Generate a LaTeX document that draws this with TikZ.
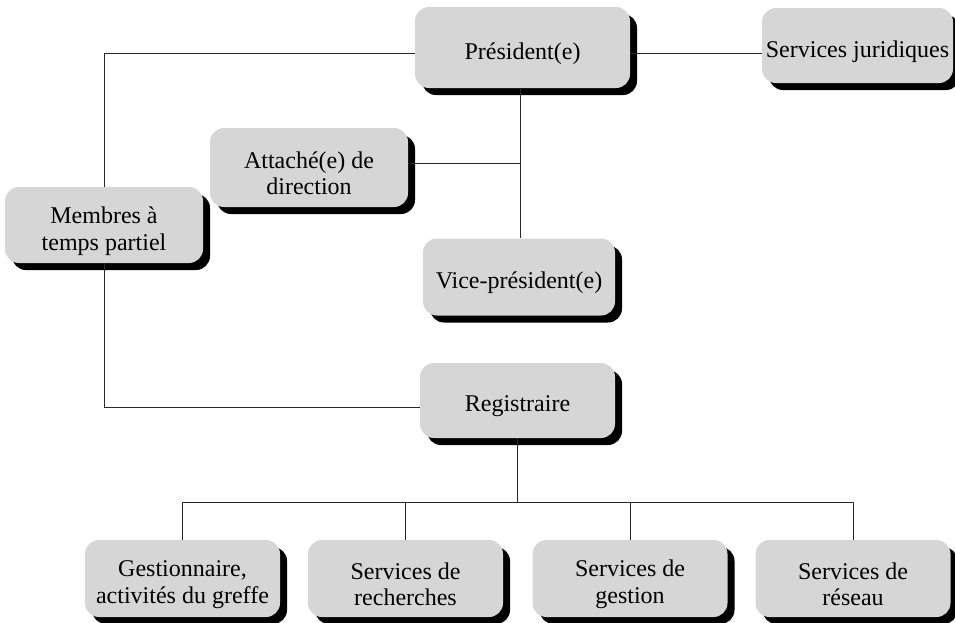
\documentclass[tikz,border=0pt]{standalone}
\usepackage{fontspec}
\setmainfont{Liberation Serif}
\usetikzlibrary{shadows}
\definecolor{boxgray}{RGB}{214,214,214}
\definecolor{linegray}{RGB}{40,40,40}
\tikzset{
  orgbox/.style={rectangle, rounded corners=14pt, fill=boxgray, draw=none,
    inner sep=0pt,
    drop shadow={shadow xshift=7pt, shadow yshift=-7pt, opacity=1, fill=black}},
  orgtext/.style={align=center, inner sep=0pt, yshift=-6pt,
    font=\fontsize{24}{26.5}\selectfont},
  link/.style={draw=linegray, line width=0.9pt}
}
\begin{document}
\begin{tikzpicture}[x=1pt,y=-1pt]
\useasboundingbox (0,0) rectangle (955,622);
\node[orgbox, minimum width=215pt, minimum height=81pt,
  label={[orgtext]center:{Président(e)}}] (pres) at (522.5,47.5) {};
\node[orgbox, minimum width=191pt, minimum height=75pt,
  label={[orgtext]center:{Services juridiques}}] (jur) at (857.5,45.5) {};
\node[orgbox, minimum width=198pt, minimum height=79pt,
  label={[orgtext]center:{Attaché(e) de\\direction}}] (att) at (309,167.5) {};
\node[orgbox, minimum width=198pt, minimum height=76pt,
  label={[orgtext]center:{Membres à\\temps partiel}}] (memb) at (104,225) {};
\node[orgbox, minimum width=192pt, minimum height=77pt,
  label={[orgtext]center:{Vice-président(e)}}] (vice) at (519,277) {};
\node[orgbox, minimum width=195pt, minimum height=75pt,
  label={[orgtext]center:{Registraire}}] (reg) at (517.5,400.5) {};
\node[orgbox, minimum width=195pt, minimum height=77pt,
  label={[orgtext]center:{Gestionnaire,\\activités du greffe}}] (ges) at (182.5,578.5) {};
\node[orgbox, minimum width=195pt, minimum height=77pt,
  label={[orgtext]center:{Services de\\recherches}}] (rech) at (405.5,578.5) {};
\node[orgbox, minimum width=195pt, minimum height=77pt,
  label={[orgtext]center:{Services de\\gestion}}] (gest) at (630,578.5) {};
\node[orgbox, minimum width=195pt, minimum height=77pt,
  label={[orgtext]center:{Services de\\réseau}}] (res) at (853,578.5) {};

\coordinate (top) at (0,53);
\coordinate (spine) at (520,0);
\coordinate (j1) at (520,163);
\coordinate (regin) at (0,407);
\coordinate (bus) at (517.5,502);

\draw[link] (pres.east |- top) -- (jur.west |- top);
\draw[link] (pres.west |- top) -| (memb.north);
\draw[link] (memb.south) |- (reg.west |- regin);
\draw[link] (pres.south -| spine) -- (vice.north -| spine);
\draw[link] (att.east |- j1) -- (j1);
\draw[link] (reg.south) -- (bus);
\draw[link] (ges.north |- bus) -- (res.north |- bus);
\draw[link] (ges.north |- bus) -- (ges.north);
\draw[link] (rech.north |- bus) -- (rech.north);
\draw[link] (gest.north |- bus) -- (gest.north);
\draw[link] (res.north |- bus) -- (res.north);
\end{tikzpicture}
\end{document}
